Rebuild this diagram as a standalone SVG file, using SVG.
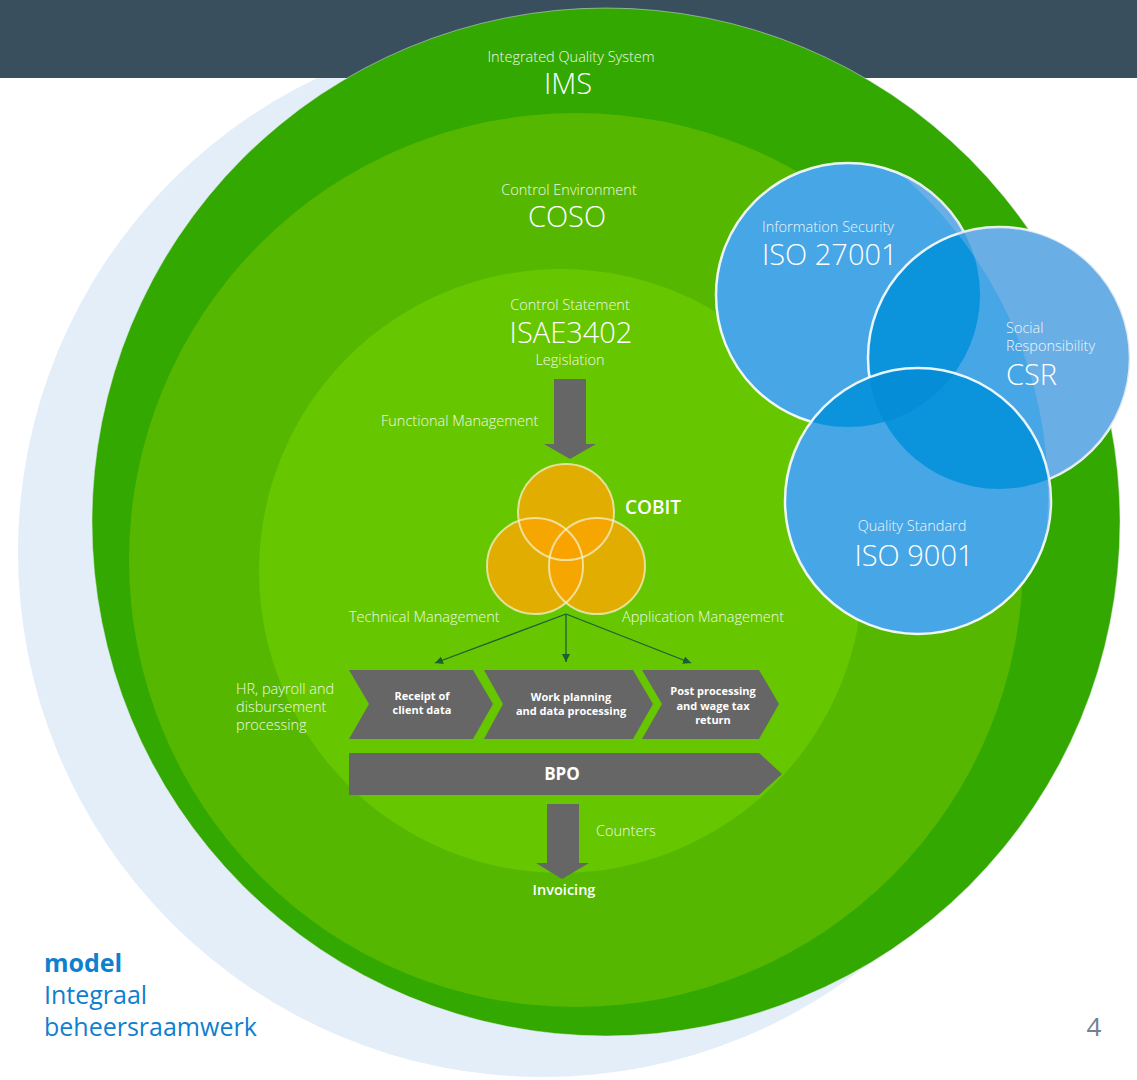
<svg xmlns="http://www.w3.org/2000/svg" width="1137" height="1080" viewBox="0 0 1137 1080">
<style>
.lbl{font-family:"Open Sans","Liberation Sans",sans-serif;font-weight:300;font-size:14.5px;fill:#f1f8e9}
.big{font-family:"Open Sans","Liberation Sans",sans-serif;font-weight:300;font-size:29px;fill:#ffffff}
.blbl{font-family:"Open Sans","Liberation Sans",sans-serif;font-weight:300;font-size:14.5px;fill:#eef5fb}
.chev{font-family:"Open Sans","Liberation Sans",sans-serif;font-weight:700;font-size:11px;fill:#ffffff;text-anchor:middle}
.gray{fill:#666666}
.conn{stroke:#1d5e37;stroke-width:1.3;fill:none}
.bstroke{fill:none;stroke:#ffffff;stroke-width:2.5;stroke-opacity:0.9}
.ostroke{fill:none;stroke:#f6f0c8;stroke-width:2;stroke-opacity:0.75}
.title{font-family:"Open Sans","Liberation Sans",sans-serif;font-size:25px;fill:#0f7fcf}
</style>
<defs>
<marker id="ah" markerWidth="10" markerHeight="10" refX="8" refY="4" orient="auto" markerUnits="userSpaceOnUse">
<path d="M0,0 L8,4 L0,8 Z" fill="#1d5e37"/>
</marker>
<clipPath id="cA"><circle cx="848" cy="295" r="132"/></clipPath>
<clipPath id="cB"><circle cx="999" cy="358" r="131"/></clipPath>
<clipPath id="cC"><circle cx="918" cy="501" r="133"/></clipPath>
<clipPath id="cAB" clip-path="url(#cA)"><circle cx="999" cy="358" r="131"/></clipPath>
<clipPath id="cU"><circle cx="848" cy="295" r="132"/><circle cx="999" cy="358" r="131"/><circle cx="918" cy="501" r="133"/></clipPath>
<clipPath id="oT"><circle cx="566" cy="512" r="48"/></clipPath>
<clipPath id="oL"><circle cx="535" cy="566" r="48"/></clipPath>
<clipPath id="oTL" clip-path="url(#oT)"><circle cx="535" cy="566" r="48"/></clipPath>
</defs>

<g id="background">
<circle cx="543" cy="552" r="525" fill="#e3eef9"/>
<rect x="0" y="0" width="1137" height="78" fill="#3a4f5e"/>
</g>

<g id="ims">
<circle cx="606" cy="522" r="514" fill="#33a800" stroke="#dfe8e4" stroke-opacity="0.5" stroke-width="1"/>
<text class="lbl" x="571" y="62" text-anchor="middle">Integrated Quality System</text>
<text class="big" x="568" y="94" text-anchor="middle">IMS</text>
</g>

<g id="coso">
<circle cx="576" cy="560" r="447" fill="#55b700"/>
<text class="lbl" x="569" y="195" text-anchor="middle">Control Environment</text>
<text class="big" x="567" y="227" text-anchor="middle">COSO</text>
</g>

<g id="isae">
<circle cx="561" cy="571" r="302" fill="#66c600"/>
<text class="lbl" x="570" y="310" text-anchor="middle">Control Statement</text>
<text class="big" x="571" y="343" text-anchor="middle">ISAE3402</text>
<text class="lbl" x="570" y="365" text-anchor="middle">Legislation</text>
</g>

<g id="blue-circles">
<g id="iso27001">
<circle cx="848" cy="295" r="132" fill="#47a6e5"/>
<circle class="bstroke" cx="848" cy="295" r="132"/>
</g>
<g id="csr">
<circle cx="999" cy="358" r="131" fill="#47a6e5"/>
<circle cx="999" cy="358" r="131" fill="#0b94dc" clip-path="url(#cA)"/>
<circle class="bstroke" cx="999" cy="358" r="131"/>
</g>
<g id="iso9001">
<circle cx="918" cy="501" r="133" fill="#47a6e5"/>
<circle cx="918" cy="501" r="133" fill="#0b94dc" clip-path="url(#cA)"/>
<circle cx="918" cy="501" r="133" fill="#0b94dc" clip-path="url(#cB)"/>
<circle cx="918" cy="501" r="133" fill="#058dd8" clip-path="url(#cAB)"/>
<circle class="bstroke" cx="918" cy="501" r="133"/>
</g>
<path d="M0,0 H1137 V1080 H0 Z M625,72 A423,423 0 1,0 625,918 A423,423 0 1,0 625,72 Z" fill="#b8c2e6" fill-opacity="0.3" fill-rule="evenodd" clip-path="url(#cU)"/>
<text class="blbl" x="762" y="232">Information Security</text>
<text class="big" x="762" y="265">ISO 27001</text>
<text class="blbl" x="1006" y="333">Social</text>
<text class="blbl" x="1006" y="351">Responsibility</text>
<text class="big" x="1006" y="385">CSR</text>
<text class="blbl" x="912" y="531" text-anchor="middle">Quality Standard</text>
<text class="big" x="914" y="566" text-anchor="middle">ISO 9001</text>
</g>

<g id="cobit">
<circle cx="566" cy="512" r="48" fill="#e0ad00"/>
<circle cx="535" cy="566" r="48" fill="#e0ad00"/>
<circle cx="597" cy="566" r="48" fill="#e0ad00"/>
<circle cx="535" cy="566" r="48" fill="#f5a600" clip-path="url(#oT)"/>
<circle cx="597" cy="566" r="48" fill="#f5a600" clip-path="url(#oT)"/>
<circle cx="597" cy="566" r="48" fill="#f5a600" clip-path="url(#oL)"/>
<circle cx="597" cy="566" r="48" fill="#f8a300" clip-path="url(#oTL)"/>
<circle class="ostroke" cx="566" cy="512" r="48"/>
<circle class="ostroke" cx="535" cy="566" r="48"/>
<circle class="ostroke" cx="597" cy="566" r="48"/>
<text x="625" y="514" font-family="'Open Sans','Liberation Sans',sans-serif" font-weight="600" font-size="19" fill="#ffffff">COBIT</text>
</g>

<g id="labels">
<text class="lbl" x="381" y="426">Functional Management</text>
<text class="lbl" x="349" y="622">Technical Management</text>
<text class="lbl" x="622" y="622">Application Management</text>
<text class="lbl" x="236" y="694">HR, payroll and</text>
<text class="lbl" x="236" y="712">disbursement</text>
<text class="lbl" x="236" y="730">processing</text>
<text class="lbl" x="596" y="836">Counters</text>
<text x="564" y="895" text-anchor="middle" font-family="'Open Sans','Liberation Sans',sans-serif" font-weight="600" font-size="14.5" fill="#ffffff">Invoicing</text>
</g>

<g id="receipt">
<path class="gray" d="M349,670 L473,670 L493,704 L473,739 L349,739 L369,704 Z"/>
<text class="chev" x="422" y="700">Receipt of</text>
<text class="chev" x="422" y="714">client data</text>
</g>
<g id="workplanning">
<path class="gray" d="M484,670 L633,670 L653,704 L633,739 L484,739 L503,704 Z"/>
<text class="chev" x="571" y="701">Work planning</text>
<text class="chev" x="571" y="715">and data processing</text>
</g>
<g id="postprocessing">
<path class="gray" d="M642,670 L759,670 L779,704 L759,739 L642,739 L662,704 Z"/>
<text class="chev" x="713" y="695">Post processing</text>
<text class="chev" x="713" y="710">and wage tax</text>
<text class="chev" x="713" y="724">return</text>
</g>
<g id="bpo">
<path class="gray" d="M349,753 L759,753 L782,774 L759,795 L349,795 Z"/>
<text x="562" y="780" text-anchor="middle" font-family="'Open Sans','Liberation Sans',sans-serif" font-weight="700" font-size="17" fill="#ffffff">BPO</text>
</g>

<g id="connectors">
<path class="gray" d="M554,379 H586 V444 H596 L570,459 L544,444 H554 Z"/>
<path class="gray" d="M547,804 H579 V863 H589 L562,879 L536,863 H547 Z"/>
<line class="conn" x1="566" y1="614" x2="435" y2="663" marker-end="url(#ah)"/>
<line class="conn" x1="566" y1="614" x2="566" y2="662" marker-end="url(#ah)"/>
<line class="conn" x1="566" y1="614" x2="691" y2="663" marker-end="url(#ah)"/>
</g>

<g id="title">
<text class="title" x="44" y="972" font-weight="700" font-size="24.5">model</text>
<text class="title" x="44" y="1004">Integraal</text>
<text class="title" x="44" y="1036">beheersraamwerk</text>
<text x="1094" y="1036" text-anchor="middle" font-family="'Open Sans','Liberation Sans',sans-serif" font-size="26" fill="#6f8294">4</text>
</g>
</svg>
